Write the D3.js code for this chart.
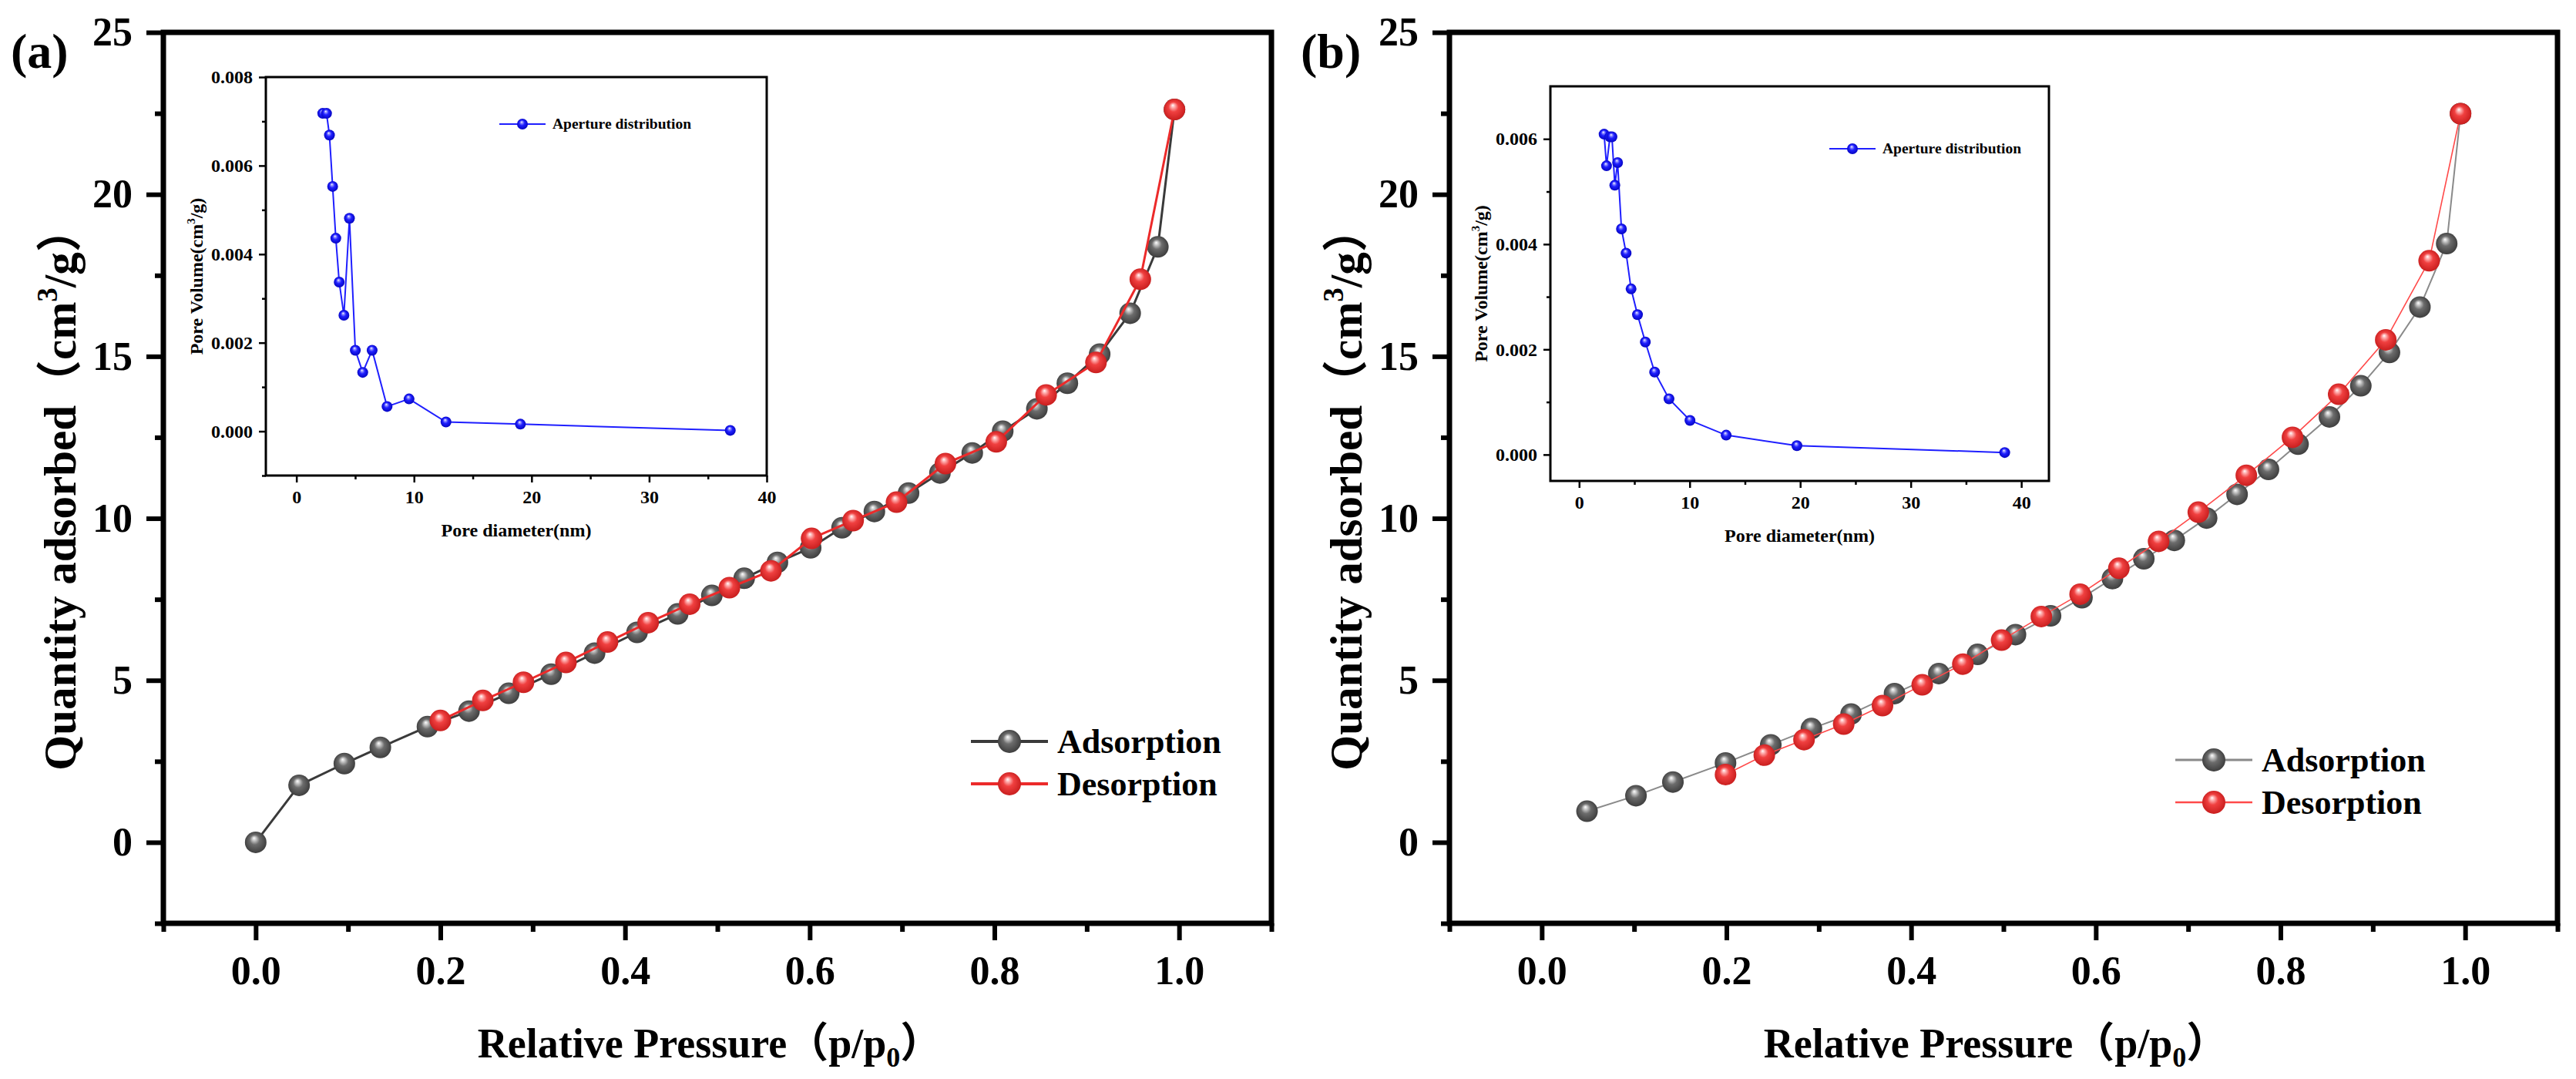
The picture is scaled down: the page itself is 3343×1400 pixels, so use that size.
<!DOCTYPE html>
<html><head><meta charset="utf-8">
<script src="https://cdn.jsdelivr.net/npm/d3@7"></script>
<style>
body{margin:0;background:#fff;}
svg{display:block;}
text{font-family:"Liberation Serif","Times New Roman","Noto Sans CJK SC",serif;font-weight:bold;fill:#000;}
</style></head><body>
<svg id="chart" width="3343" height="1400"></svg>
<script>
// ---------------- DATA ----------------
const seriesNames = ["Adsorption", "Desorption"];
const insetLegend = "Aperture distribution";
const panelLabels = ["(a)", "(b)"];

const xMajorTicks = [0, 0.2, 0.4, 0.6, 0.8, 1.0];
const xMinorTicks = [-0.1, 0.1, 0.3, 0.5, 0.7, 0.9, 1.1];
const yMajorTicks = [0, 5, 10, 15, 20, 25];
const yMinorTicks = [-2.5, 2.5, 7.5, 12.5, 17.5, 22.5];

// Panel (a) isotherm
const adsA_x = [0, 0.047, 0.096, 0.135, 0.186, 0.231, 0.274, 0.320, 0.367, 0.413, 0.457, 0.494, 0.529, 0.565, 0.601, 0.635, 0.670, 0.707, 0.741, 0.776, 0.809, 0.846, 0.879, 0.914, 0.947, 0.977, 0.995];
const adsA_y = [0, 1.76, 2.43, 2.93, 3.57, 4.05, 4.60, 5.19, 5.84, 6.48, 7.05, 7.62, 8.15, 8.64, 9.09, 9.71, 10.21, 10.78, 11.40, 12.02, 12.69, 13.38, 14.17, 15.07, 16.33, 18.38, 22.62];
const desA_x = [0.995, 0.958, 0.910, 0.856, 0.802, 0.747, 0.694, 0.647, 0.602, 0.558, 0.513, 0.470, 0.425, 0.381, 0.336, 0.290, 0.246, 0.200];
const desA_y = [22.62, 17.38, 14.81, 13.81, 12.36, 11.69, 10.50, 9.93, 9.38, 8.38, 7.86, 7.35, 6.78, 6.18, 5.55, 4.94, 4.38, 3.76];

// Panel (b) isotherm
const adsB_x = [0.049, 0.102, 0.142, 0.199, 0.248, 0.292, 0.335, 0.382, 0.430, 0.472, 0.513, 0.551, 0.585, 0.618, 0.652, 0.685, 0.720, 0.753, 0.787, 0.819, 0.853, 0.887, 0.918, 0.951, 0.980, 0.995];
const adsB_y = [0.96, 1.44, 1.86, 2.45, 3.01, 3.51, 3.96, 4.59, 5.21, 5.80, 6.41, 6.99, 7.55, 8.14, 8.75, 9.32, 10.01, 10.74, 11.51, 12.29, 13.13, 14.09, 15.12, 16.52, 18.48, 22.49];
const desB_x = [0.995, 0.961, 0.914, 0.863, 0.813, 0.763, 0.711, 0.668, 0.625, 0.583, 0.541, 0.498, 0.456, 0.412, 0.369, 0.327, 0.284, 0.241, 0.199];
const desB_y = [22.49, 17.95, 15.51, 13.83, 12.50, 11.33, 10.19, 9.29, 8.46, 7.66, 6.97, 6.24, 5.50, 4.86, 4.22, 3.65, 3.17, 2.69, 2.09];

// Inset pore size distributions
const poreA_x = [2.24, 2.56, 2.81, 3.08, 3.35, 3.64, 4.04, 4.51, 5.01, 5.64, 6.44, 7.71, 9.58, 12.72, 19.05, 36.9];
const poreA_y = [0.00718, 0.00718, 0.00669, 0.00553, 0.00436, 0.00337, 0.00262, 0.00481, 0.00183, 0.00133, 0.00183, 0.00056, 0.00073, 0.00021, 0.00016, 0.00002];
const poreB_x = [2.26, 2.48, 2.79, 2.97, 3.23, 3.48, 3.83, 4.25, 4.70, 5.28, 5.99, 6.83, 8.13, 10.03, 13.3, 19.7, 38.5];
const poreB_y = [0.00609, 0.00549, 0.00604, 0.00604, 0.00512, 0.00555, 0.00429, 0.00383, 0.00315, 0.00266, 0.00214, 0.00157, 0.00106, 0.00065, 0.00037, 0.00017, 0.00004];

const insetXMajor = [0, 10, 20, 30, 40];
const insetXMinor = [5, 15, 25, 35];
const insetAYMajor = [0, 0.002, 0.004, 0.006, 0.008];
const insetAYMinor = [-0.001, 0.001, 0.003, 0.005, 0.007];
const insetBYMajor = [0, 0.002, 0.004, 0.006];
const insetBYMinor = [0.001, 0.003, 0.005];

// ---------------- DRAWING ----------------
const svg = d3.select('#chart');
const defs = svg.append('defs');
function sphere(id, stops) {
  const g = defs.append('radialGradient').attr('id', id)
    .attr('cx', 0.5).attr('cy', 0.5).attr('r', 0.55).attr('fx', 0.42).attr('fy', 0.3);
  stops.forEach(s => g.append('stop').attr('offset', s[0]).attr('stop-color', s[1]));
}
sphere('gGray', [[0, '#ffffff'], [0.14, '#d0d0d0'], [0.42, '#6c6c6c'], [1, '#383838']]);
sphere('gRed', [[0, '#ffffff'], [0.14, '#ffb8b8'], [0.42, '#f04040'], [1, '#c41a1a']]);
sphere('gBlue', [[0, '#ffffff'], [0.16, '#9a9aff'], [0.45, '#2020ff'], [1, '#0000b8']]);

const zip = (xs, ys) => xs.map((v, i) => [v, ys[i]]);

function styleAxis(g, sw, fs) {
  g.select('.domain').remove();
  g.selectAll('.tick line').attr('stroke', '#000').attr('stroke-width', sw);
  g.selectAll('.tick text').style('font-size', fs + 'px').attr('fill', '#000');
}

function drawPanel(cfg) {
  const {L, R, T, B} = cfg;
  const g = svg.append('g');
  const x = d3.scaleLinear().domain([-0.1, 1.1]).range([L, R]);
  const y = d3.scaleLinear().domain([-2.5, 25]).range([B, T]);

  // axes
  const gxm = g.append('g').attr('transform', `translate(0,${B})`)
    .call(d3.axisBottom(x).tickValues(xMinorTicks).tickSize(11).tickFormat(''));
  styleAxis(gxm, 6, 52);
  const gx = g.append('g').attr('transform', `translate(0,${B})`)
    .call(d3.axisBottom(x).tickValues(xMajorTicks).tickSize(22).tickPadding(20).tickFormat(d3.format('.1f')));
  styleAxis(gx, 6, 52);
  const gym = g.append('g').attr('transform', `translate(${L},0)`)
    .call(d3.axisLeft(y).tickValues(yMinorTicks).tickSize(11).tickFormat(''));
  styleAxis(gym, 6, 52);
  const gy = g.append('g').attr('transform', `translate(${L},0)`)
    .call(d3.axisLeft(y).tickValues(yMajorTicks).tickSize(22).tickPadding(18).tickFormat(d3.format('d')));
  styleAxis(gy, 6, 52);
  g.append('rect').attr('x', L).attr('y', T).attr('width', R - L).attr('height', B - T)
    .attr('fill', 'none').attr('stroke', '#000').attr('stroke-width', 7);

  // titles
  const xt = g.append('text').attr('x', (L + R) / 2 - 10).attr('y', 1372)
    .attr('text-anchor', 'middle').style('font-size', '54px');
  xt.append('tspan').text('Relative Pressure（p/p');
  xt.append('tspan').text('0').style('font-size', '36px').attr('dy', 12);
  xt.append('tspan').text('）').attr('dy', -12);

  const yt = g.append('text').attr('transform', `translate(${L - 114},${(T + B) / 2 + 14}) rotate(-90)`)
    .attr('text-anchor', 'middle').style('font-size', '59px');
  yt.append('tspan').text('Quantity adsorbed（cm');
  yt.append('tspan').text('3').style('font-size', '37px').attr('dy', -24);
  yt.append('tspan').text('/g）').attr('dy', 24);

  g.append('text').attr('x', cfg.labelX).attr('y', 88).style('font-size', '64px').text(cfg.label);

  // inset
  drawInset(g, cfg.inset);

  // series
  const line = d3.line().x(d => x(d[0])).y(d => y(d[1]));
  const series = [
    {pts: zip(cfg.adsX, cfg.adsY), color: cfg.grayLine, w: cfg.lw[0], grad: 'url(#gGray)'},
    {pts: zip(cfg.desX, cfg.desY), color: cfg.redLine, w: cfg.lw[1], grad: 'url(#gRed)'}
  ];
  series.forEach(s => {
    g.append('path').attr('d', line(s.pts)).attr('fill', 'none')
      .attr('stroke', s.color).attr('stroke-width', s.w).attr('stroke-linejoin', 'round');
    g.append('g').selectAll('circle').data(s.pts).join('circle')
      .attr('cx', d => x(d[0])).attr('cy', d => y(d[1])).attr('r', 14).attr('fill', s.grad);
  });

  // legend
  const lg = g.append('g');
  seriesNames.forEach((name, i) => {
    const s = series[i];
    const yy = cfg.legY + i * 55;
    lg.append('line').attr('x1', cfg.legX).attr('x2', cfg.legX + 100).attr('y1', yy).attr('y2', yy)
      .attr('stroke', s.color).attr('stroke-width', s.w + 1);
    lg.append('circle').attr('cx', cfg.legX + 50).attr('cy', yy).attr('r', 15).attr('fill', s.grad);
    lg.append('text').attr('x', cfg.legX + 112).attr('y', yy).attr('dy', '0.33em')
      .style('font-size', '44px').text(name);
  });
}

function drawInset(parent, c) {
  const g = parent.append('g');
  const x = d3.scaleLinear().domain(c.xDom).range([c.L, c.R]);
  const y = d3.scaleLinear().domain(c.yDom).range([c.B, c.T]);
  g.append('rect').attr('x', c.L).attr('y', c.T).attr('width', c.R - c.L).attr('height', c.B - c.T)
    .attr('fill', '#fff').attr('stroke', 'none');

  const a1 = g.append('g').attr('transform', `translate(0,${c.B})`)
    .call(d3.axisBottom(x).tickValues(insetXMinor).tickSize(5).tickFormat(''));
  styleAxis(a1, 2.5, 24);
  const a2 = g.append('g').attr('transform', `translate(0,${c.B})`)
    .call(d3.axisBottom(x).tickValues(insetXMajor).tickSize(9).tickPadding(10).tickFormat(d3.format('d')));
  styleAxis(a2, 2.5, 24);
  const a3 = g.append('g').attr('transform', `translate(${c.L},0)`)
    .call(d3.axisLeft(y).tickValues(c.yMinor).tickSize(5).tickFormat(''));
  styleAxis(a3, 2.5, 24);
  const a4 = g.append('g').attr('transform', `translate(${c.L},0)`)
    .call(d3.axisLeft(y).tickValues(c.yMajor).tickSize(9).tickPadding(8).tickFormat(d3.format('.3f')));
  styleAxis(a4, 2.5, 24);
  g.append('rect').attr('x', c.L).attr('y', c.T).attr('width', c.R - c.L).attr('height', c.B - c.T)
    .attr('fill', 'none').attr('stroke', '#000').attr('stroke-width', 3);

  g.append('text').attr('x', (c.L + c.R) / 2).attr('y', c.B + 79).attr('text-anchor', 'middle')
    .style('font-size', '24px').text('Pore diameter(nm)');
  const yt = g.append('text').attr('transform', `translate(${c.L - 82},${(c.T + c.B) / 2}) rotate(-90)`)
    .attr('text-anchor', 'middle').style('font-size', '24px');
  yt.append('tspan').text('Pore Volume(cm');
  yt.append('tspan').text('3').style('font-size', '15px').attr('dy', -10);
  yt.append('tspan').text('/g)').attr('dy', 10);

  const pts = zip(c.px, c.py);
  g.append('path').attr('d', d3.line().x(d => x(d[0])).y(d => y(d[1]))(pts))
    .attr('fill', 'none').attr('stroke', '#1f1fff').attr('stroke-width', 2);
  g.append('g').selectAll('circle').data(pts).join('circle')
    .attr('cx', d => x(d[0])).attr('cy', d => y(d[1])).attr('r', 7).attr('fill', 'url(#gBlue)');

  g.append('line').attr('x1', c.legX).attr('x2', c.legX + 60).attr('y1', c.legY).attr('y2', c.legY)
    .attr('stroke', '#1f1fff').attr('stroke-width', 2);
  g.append('circle').attr('cx', c.legX + 30).attr('cy', c.legY).attr('r', 7).attr('fill', 'url(#gBlue)');
  g.append('text').attr('x', c.legX + 69).attr('y', c.legY).attr('dy', '0.33em')
    .style('font-size', '19.5px').text(insetLegend);
}

drawPanel({
  L: 212, R: 1650, T: 42, B: 1198, label: panelLabels[0], labelX: 14,
  adsX: adsA_x, adsY: adsA_y, desX: desA_x, desY: desA_y,
  grayLine: '#3a3a3a', redLine: '#ec2a2a', lw: [3, 3],
  legX: 1260, legY: 962,
  inset: {L: 345, R: 995, T: 100, B: 617, xDom: [-2.6, 40], yDom: [-0.001, 0.008],
          yMajor: insetAYMajor, yMinor: insetAYMinor, px: poreA_x, py: poreA_y, legX: 648, legY: 161}
});
drawPanel({
  L: 1881, R: 3319, T: 42, B: 1198, label: panelLabels[1], labelX: 1688,
  adsX: adsB_x, adsY: adsB_y, desX: desB_x, desY: desB_y,
  grayLine: '#8a8a8a', redLine: '#ff4a4a', lw: [2, 1.6],
  legX: 2823, legY: 986,
  inset: {L: 2012, R: 2659, T: 112, B: 624, xDom: [-2.6, 42.5], yDom: [-0.0005, 0.007],
          yMajor: insetBYMajor, yMinor: insetBYMinor, px: poreB_x, py: poreB_y, legX: 2374, legY: 193}
});
</script>
</body></html>
